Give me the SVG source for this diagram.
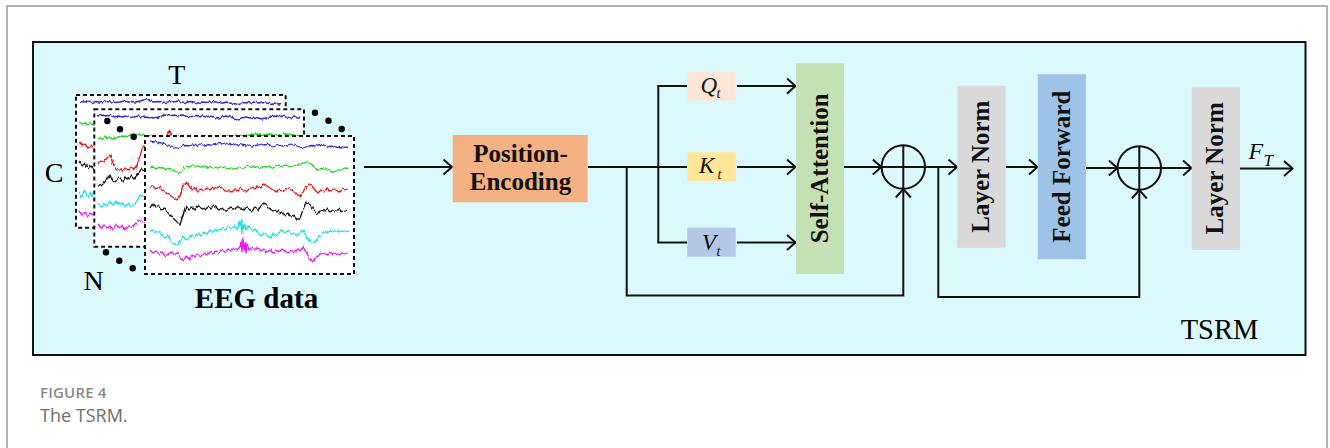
<svg xmlns="http://www.w3.org/2000/svg" width="1330" height="448" viewBox="0 0 1330 448">
  <style>
    .frame{fill:none;stroke:#9a9a9a;stroke-width:1.5}
    .panel{fill:#dbf9fc;stroke:#111;stroke-width:2}
    .sheet{fill:#fff}
    .dash{fill:none;stroke:#111;stroke-width:2;stroke-dasharray:4 3}
    .tr{fill:none;stroke-width:1.3;stroke-linejoin:round}
    .b{stroke:#2b2bdc}.g{stroke:#1fd01f}.r{stroke:#e81919}.k{stroke:#151515}.c{stroke:#14e0ea}.m{stroke:#e619e6}
    .dot{fill:#000}
    .lbl{font-family:"Liberation Serif","Times New Roman",serif;fill:#000}
    .blk{font-family:"Liberation Serif","Times New Roman",serif;font-weight:bold;font-size:25px;fill:#111}
    .it{font-family:"Liberation Serif","Times New Roman",serif;font-style:italic;fill:#111}
    .wire{fill:none;stroke:#111;stroke-width:2}
    .sum{fill:none;stroke:#111;stroke-width:2}
    .cap1{font-family:"Open Sans","Liberation Sans",sans-serif;font-weight:600;font-size:15px;letter-spacing:0.2px;fill:#888}
    .cap2{font-family:"Open Sans","Liberation Sans",sans-serif;font-size:18px;fill:#6e6e6e}
  </style>
  <defs>
    <marker id="arr" viewBox="0 0 20 20" refX="10" refY="10" markerWidth="20" markerHeight="20" markerUnits="userSpaceOnUse" orient="auto">
      <path d="M1.5,2.5 L10,10 L1.5,17.5" fill="none" stroke="#111" stroke-width="2"/>
    </marker>
    <!-- fine jitter for the signal traces -->
    <filter id="jitter" x="-5%" y="-20%" width="110%" height="140%">
      <feTurbulence type="fractalNoise" baseFrequency="0.45 0.08" numOctaves="2" seed="7" result="n"/>
      <feDisplacementMap in="SourceGraphic" in2="n" scale="3.5" xChannelSelector="R" yChannelSelector="G"/>
    </filter>
  </defs>

  <!-- page frame -->
  <path class="frame" d="M7,448 V6 H1327 V448"/>

  <!-- module panel -->
  <rect class="panel" x="33" y="42" width="1272.5" height="313"/>

  <!-- EEG input stack -->
  <g id="eeg">
    <!-- back sheet -->
    <rect class="sheet" x="76" y="95" width="209.7" height="132.7"/>
    <g filter="url(#jitter)">
      <polyline class="tr b" points="80,101.5 84,102 88,101 92,102.5 96,101.5 100,102 104,101 108,102 112,101.5 116,102.5 120,102 124,101 128,102 132,101.5 136,102 140,101 144,100 147,98.5 150,101 154,102 158,101.5 162,102 166,102.5 170,101.5 174,102 178,101 182,102 186,102.5 190,101.5 194,102 198,103 202,102 206,102.5 210,102 214,101.5 218,102.5 222,103 226,102 230,103 234,103.5 238,104.5 242,103 246,102.5 250,103 254,102 258,103 262,102.5 266,103 270,103.5 274,103 278,104 281,103.5"/>
      <polyline class="tr g" points="79,122 82,124 85,122.5 88,125 91,123 94,125.5 97,124"/>
      <polyline class="tr r" points="79,143 82,146 85,144 88,148 91,146 94,149 97,147"/>
      <polyline class="tr k" points="79,161 82,166 85,163 88,168 91,166 94,170 97,169"/>
      <polyline class="tr c" points="79,192 82,197 85,190 88,197 91,193 94,198 97,195"/>
      <polyline class="tr m" points="79,211 82,215 85,212 88,216 91,213 94,216 97,214"/>
    </g>
    <rect class="dash" x="76" y="95" width="209.7" height="132.7"/>

    <!-- middle sheet -->
    <rect class="sheet" x="94.3" y="109.3" width="209.7" height="137.4"/>
    <g filter="url(#jitter)">
      <polyline class="tr b" points="98,116 102,115 106,116 110,115.5 114,117 118,116 122,117 126,116 130,117.5 134,117 138,116 142,117 146,116 150,117 154,118 158,117 162,116 166,115 170,116 174,115 178,116 182,115 186,116 190,117 194,116 198,115.5 202,116 206,117 210,116 214,117 218,118 222,117 226,116 230,117 234,118 238,119 242,118 246,117 250,118 254,117 258,118 262,119 266,118 270,117 274,116 278,117 282,116 286,117 290,118 294,117 298,118 300,118"/>
      <polyline class="tr g" points="98,138 102,139 106,137 110,138 114,139 118,137 122,136 126,137 130,135 134,136 138,134 142,135 146,136 160,137 200,137 240,136 250,135 256,134 262,135.5 270,134 278,135 286,134 294,135 300,136"/>
      <polyline class="tr r" points="98,163 101,161 104,162 107,158 110,155 113,163 116,170 119,169 122,171 125,168 128,170 131,167 134,169 137,165 140,156 142,149 145,146 150,150"/>
      <polyline class="tr r" points="164,139 167,136 169,131 171,135 173,139"/>
      <polyline class="tr k" points="98,184 101,186 104,183 107,179 110,175 113,182 116,180 119,178 122,181 125,177 128,180 131,176 134,179 137,175 140,171 142,168 145,170 150,172"/>
      <polyline class="tr c" points="98,204 101,207 104,203 107,206 110,202 113,205 116,201 119,205 122,202 125,206 128,203 131,207 134,204 137,201 140,195 143,197 148,199"/>
      <polyline class="tr m" points="98,224 101,228 104,225 107,228 110,226 113,229 116,225 119,228 122,226 125,229 128,226 131,228 134,225 137,222 140,220 143,222 148,224"/>
    </g>
    <rect class="dash" x="94.3" y="109.3" width="209.7" height="137.4"/>

    <!-- front sheet -->
    <rect class="sheet" x="145" y="136" width="209" height="138"/>
    <g filter="url(#jitter)">
      <polyline class="tr b" points="150,141 153,142 156,141.5 159,142.5 162,143 165,144 168,145.5 171,146 174,147 177,148 180,147 183,146 186,145.5 189,146 192,145 195,145.5 198,145 201,144 204,145 207,144.5 210,145 213,144 216,144.5 219,143.5 222,144 225,143 228,144 231,143.5 234,144 237,145 240,144.5 243,145.5 246,146 249,145 252,146 255,145.5 258,145 261,144 264,145 267,144.5 270,146 273,147 276,146 279,145 282,146 285,145.5 288,145 291,144 294,145 297,146 300,147 303,148 306,147 309,146 312,145.5 315,146 318,145 321,144.5 324,145 327,146 330,146.5 333,146 336,147 339,147.5 342,148 345,147 348,147.5"/>
      <polyline class="tr g" points="150,168 153,167 156,169 159,167.5 162,168 165,169 168,168 171,170 174,171 177,172 180,173 183,170 186,166 189,167 192,165.5 195,167 198,166 201,167.5 204,166 207,167 210,166.5 213,168 216,167 219,168.5 222,167 225,168 228,169 231,168 234,169.5 237,168 240,167 243,168.5 246,167 249,166 252,167.5 255,166 258,167 261,168 264,166.5 267,167 270,166 273,167.5 276,166 279,165 282,166.5 285,165 288,166 291,167 294,166 297,165 300,164 303,163.5 306,162 309,163 312,164.5 315,168 318,170 321,168.5 324,169 327,170 330,171 333,172.5 336,171 339,170 342,169 345,168 348,168.5"/>
      <polyline class="tr r" points="150,188 153,186 156,189 159,187 162,190 165,192 168,194 171,196 174,198 177,200 180,196 183,185 186,182 189,186 192,190 195,188 198,192 201,189 204,191 207,188 210,190 213,187 216,189 219,186 222,188 225,191 228,190 231,192 234,189 237,191 240,188 243,190 246,192 249,189 252,187 255,189 258,186 261,188 264,184 267,186 270,188 273,190 276,192 279,189 282,191 285,190 288,188 291,190 294,191 297,194 300,196 303,192 306,186 309,184 312,186 315,190 318,193 321,190 324,191 327,188 330,191 333,189 336,190 339,192 342,189 345,190 348,189"/>
      <polyline class="tr k" points="150,208 153,203 156,207 159,205 162,210 165,208 168,213 171,216 174,219 177,222 180,225 183,215 186,205 189,209 192,207 195,210 198,206 201,208 204,210 207,207 210,209 213,206 216,208 219,210 222,208 225,211 228,209 231,207 234,209 237,206 240,208 243,210 246,207 249,209 252,211 255,208 258,210 261,206 264,203 267,206 270,209 273,211 276,210 279,213 282,212 285,215 288,213 291,217 294,216 297,220 300,218 303,210 306,202 309,204 312,206 315,212 318,214 321,210 324,211 327,209 330,212 333,210 336,211 339,209 342,212 345,211 348,210"/>
      <polyline class="tr c" points="150,232 153,230 156,233 159,231 162,236 165,238 168,236 171,240 174,243 177,245 180,242 183,236 186,240 189,238 192,235 195,237 198,233 201,236 204,232 207,234 210,230 213,232 216,229 219,231 222,228 225,230 228,227 231,229 234,226 237,230 240,222 241,234 242,220 243,233 244,224 246,230 249,226 252,232 255,229 258,233 261,236 264,233 267,235 270,238 273,234 276,236 279,233 282,230 285,233 288,231 291,234 294,232 297,235 300,233 303,230 306,236 309,240 312,244 315,242 318,238 321,234 324,232 327,233 330,231 333,232 336,230 339,232 342,231 345,232 348,231"/>
      <polyline class="tr m" points="150,250 153,253 156,251 159,254 162,252 165,256 168,254 171,252 174,255 177,253 180,258 183,261 186,256 189,259 192,255 195,257 198,254 201,256 204,253 207,255 210,252 213,254 216,251 219,253 222,250 225,252 228,249 231,251 234,248 237,250 240,247 241,240 242,252 243,238 244,250 245,242 246,253 247,244 249,250 252,247 255,250 258,248 261,251 264,249 267,252 270,250 273,253 276,250 279,252 282,249 285,251 288,253 291,250 294,252 297,249 300,251 303,247 306,252 309,257 312,262 315,259 318,256 321,254 324,253 327,255 330,252 333,254 336,253 339,255 342,253 345,254 348,253"/>
    </g>
    <rect class="dash" x="145" y="136" width="209" height="138"/>

    <!-- ellipsis dots -->
    <circle class="dot" cx="315" cy="112.7" r="3.2"/>
    <circle class="dot" cx="328.5" cy="120.7" r="3.2"/>
    <circle class="dot" cx="341.7" cy="129" r="3.2"/>
    <circle class="dot" cx="107.3" cy="121" r="3.2"/>
    <circle class="dot" cx="120" cy="129.3" r="3.2"/>
    <circle class="dot" cx="133.7" cy="136.7" r="3.2"/>
    <circle class="dot" cx="106" cy="252.3" r="3.2"/>
    <circle class="dot" cx="119.3" cy="260.7" r="3.2"/>
    <circle class="dot" cx="132.7" cy="268.3" r="3.2"/>

    <text class="lbl" x="176.7" y="84" font-size="28" text-anchor="middle">T</text>
    <text class="lbl" x="54" y="182" font-size="28" text-anchor="middle">C</text>
    <text class="lbl" x="93.7" y="290" font-size="28" text-anchor="middle">N</text>
    <text class="lbl" x="256.5" y="308" font-size="29" font-weight="bold" text-anchor="middle">EEG data</text>
  </g>

  <!-- connectors -->
  <g id="connectors">
    <path class="wire" d="M364,167 H452" marker-end="url(#arr)"/>
    <path class="wire" d="M588,167 H687"/>
    <path class="wire" d="M658.3,86 V242.5"/>
    <path class="wire" d="M657.3,86 H687"/>
    <path class="wire" d="M657.3,242.5 H687"/>
    <path class="wire" d="M737,86 H795.5" marker-end="url(#arr)"/>
    <path class="wire" d="M737,167 H795.5" marker-end="url(#arr)"/>
    <path class="wire" d="M737,242.5 H795.5" marker-end="url(#arr)"/>
    <path class="wire" d="M844,167 H881.3" marker-end="url(#arr)"/>
    <path class="wire" d="M626.7,167 V295.5 H903.3 V189" marker-end="url(#arr)"/>
    <path class="wire" d="M925,167 H957" marker-end="url(#arr)"/>
    <path class="wire" d="M938.3,167 V297 H1139.3 V190" marker-end="url(#arr)"/>
    <path class="wire" d="M1005.7,167 H1037.5" marker-end="url(#arr)"/>
    <path class="wire" d="M1086,168 H1117.4" marker-end="url(#arr)"/>
    <path class="wire" d="M1161,168 H1191.5" marker-end="url(#arr)"/>
    <path class="wire" d="M1240,168.5 H1292.5" marker-end="url(#arr)"/>
  </g>

  <g id="position-encoding">
    <rect x="452.7" y="135" width="135" height="67.3" fill="#f4b183"/>
    <text class="blk" x="520.5" y="161.7" text-anchor="middle">Position-</text>
    <text class="blk" x="520.5" y="190" text-anchor="middle">Encoding</text>
  </g>

  <g id="q">
    <rect x="687.3" y="71.7" width="48.4" height="29" fill="#fbe5d6"/>
    <text class="it" x="700.5" y="93" font-size="23">Q</text>
    <text class="it" x="716.5" y="98" font-size="14">t</text>
  </g>
  <g id="k">
    <rect x="687.3" y="152.3" width="48.4" height="28.7" fill="#ffe699"/>
    <text class="it" x="699" y="173" font-size="23">K</text>
    <text class="it" x="717.5" y="179" font-size="14">t</text>
  </g>
  <g id="v">
    <rect x="687.3" y="227.7" width="48.4" height="29" fill="#b4c7e7"/>
    <text class="it" x="702" y="250" font-size="23">V</text>
    <text class="it" x="716.5" y="255.5" font-size="14">t</text>
  </g>

  <g id="self-attention">
    <rect x="796" y="63.3" width="48" height="210.7" fill="#c5e0b4"/>
    <text class="blk" transform="translate(820,168.3) rotate(-90)" x="0" y="8.3" text-anchor="middle">Self-Attention</text>
  </g>

  <g id="add-1">
    <circle class="sum" cx="903.3" cy="167" r="21.7"/>
    <path class="sum" d="M881.6,167 H925 M903.3,145.3 V188.7"/>
  </g>

  <g id="layer-norm-1">
    <rect x="957.3" y="85.7" width="48.4" height="162" fill="#d9d9d9"/>
    <text class="blk" transform="translate(981.5,166.7) rotate(-90)" x="0" y="7.5" text-anchor="middle">Layer Norm</text>
  </g>

  <g id="feed-forward">
    <rect x="1037.7" y="74.3" width="48.3" height="185" fill="#9dc3e6"/>
    <text class="blk" transform="translate(1061.8,166.7) rotate(-90)" x="0" y="8" text-anchor="middle">Feed Forward</text>
  </g>

  <g id="add-2">
    <circle class="sum" cx="1139.3" cy="168" r="21.7"/>
    <path class="sum" d="M1117.6,168 H1161 M1139.3,146.3 V189.7"/>
  </g>

  <g id="layer-norm-2">
    <rect x="1191.7" y="87.3" width="48.3" height="162.7" fill="#d9d9d9"/>
    <text class="blk" transform="translate(1215.8,168.3) rotate(-90)" x="0" y="7.5" text-anchor="middle">Layer Norm</text>
  </g>

  <g id="output">
    <text class="it" x="1248.5" y="159" font-size="24">F</text>
    <text class="it" x="1263.5" y="165.5" font-size="17">T</text>
  </g>

  <text class="lbl" x="1219.5" y="339.3" font-size="28.5" text-anchor="middle">TSRM</text>

  <text class="cap1" x="40" y="398.3">FIGURE 4</text>
  <text class="cap2" x="40" y="421.7">The TSRM.</text>
</svg>
